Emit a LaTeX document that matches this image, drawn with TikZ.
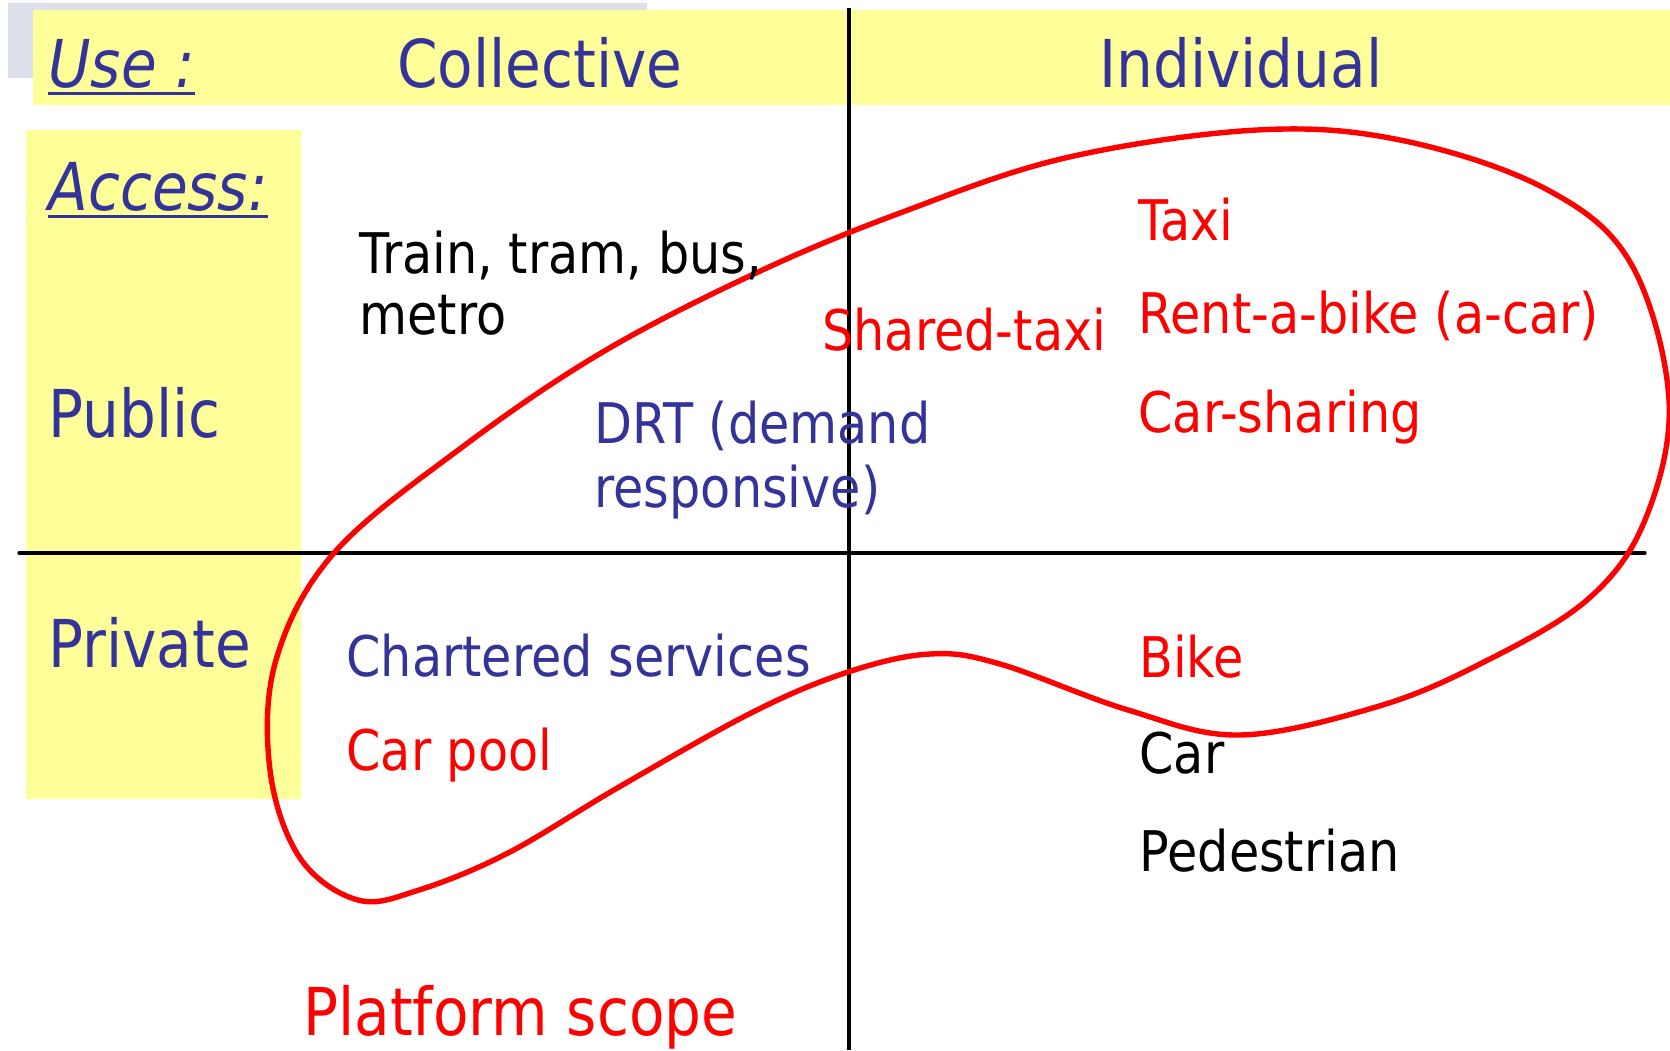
\documentclass[tikz,border=0pt]{standalone}
\usepackage{fontspec}
\setmainfont{DejaVu Sans}[FakeStretch=0.88]
\usepackage{tikz}
\definecolor{bandyellow}{RGB}{255,255,153}
\definecolor{shadowgray}{RGB}{221,224,235}
\definecolor{labelblue}{RGB}{51,51,153}
\definecolor{scopered}{RGB}{255,0,0}

\begin{document}
\begin{tikzpicture}[x=0.5pt,y=0.5pt,yscale=-1]
    \tikzstyle{every node}=[inner sep=0pt,anchor=base west]
    \tikzstyle{head}=[font=\fontsize{33}{38}\selectfont,color=labelblue]
    \tikzstyle{item}=[font=\fontsize{28}{32}\selectfont]
    \useasboundingbox (0,0) rectangle (1670,1050);

    %Rectangle (grey shadow behind the top band)
    \fill [shadowgray] (8,3) rectangle (647,78);
    %Rectangle (top band)
    \fill [bandyellow] (33,10) rectangle (1670,105);
    %Rectangle (left column)
    \fill [bandyellow] (26,130) rectangle (301,799);

    %Straight Lines
    \draw [line width=1.6pt] (849,8) -- (849,1050);
    \draw [line width=1.6pt, line cap=round] (19,553) -- (1645,553);

    % Text Node
    \node [head] (use) at (48,87) {\textit{Use :}};
    \node [head] (collective) at (397,87) {Collective};
    \node [head] (individual) at (1099,87) {Individual};
    \node [head] (access) at (48,210) {\textit{Access:}};
    \node [head] (public) at (48,437) {Public};
    \node [head] (private) at (48,667) {Private};
    \draw [labelblue, line width=1.4pt] ([yshift=3.2pt]use.base west) -- ([yshift=3.2pt]use.base east);
    \draw [labelblue, line width=1.4pt] ([yshift=3.2pt]access.base west) -- ([yshift=3.2pt]access.base east);

    %Curve (platform scope)
    \draw [scopered, line width=2.7pt] plot [smooth cycle, tension=0.6] coordinates {
        (1257,130) (1400,140) (1544,188) (1630,262)
        (1669,400) (1645,520) (1587,600) (1480,664)
        (1376,707) (1239,735) (1128,710)
        (1000,664) (930,654) (848,672) (753,712)
        (619,787) (508,853) (419,890) (358,900)
        (300,858) (270,770) (276,660)
        (334,553) (461,448) (601,353)
        (756,273) (900,213) (1065,158)};

    % Text Node
    \node [item] (train) at (359,273) {Train, tram, bus,};
    \node [item] (metro) at (359,334) {metro};
    \node [item, color=labelblue] (drt) at (594,443) {DRT (demand};
    \node [item, color=labelblue] (drt2) at (594,507) {responsive)};
    \node [item, color=scopered] (sharedtaxi) at (822,350) {Shared-taxi};
    \node [item, color=scopered] (taxi) at (1138,240) {Taxi};
    \node [item, color=scopered] (rentbike) at (1138,333) {Rent-a-bike (a-car)};
    \node [item, color=scopered] (carsharing) at (1138,432) {Car-sharing};
    \node [item, color=labelblue] (chartered) at (346,676) {Chartered services};
    \node [item, color=scopered] (carpool) at (346,770) {Car pool};
    \node [item, color=scopered] (bike) at (1139,677) {Bike};
    \node [item] (car) at (1139,773) {Car};
    \node [item] (pedestrian) at (1139,871) {Pedestrian};
    \node [head, color=scopered] (scope) at (303,1035) {Platform scope};
\end{tikzpicture}
\end{document}
